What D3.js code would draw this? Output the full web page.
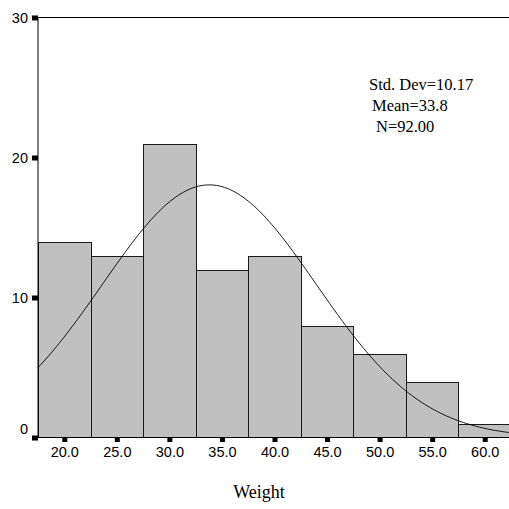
<!DOCTYPE html>
<html><head><meta charset="utf-8">
<script src="https://cdn.jsdelivr.net/npm/d3@7/dist/d3.min.js"></script>
<style>body{margin:0;background:#fff}svg{display:block}</style>
</head><body>
<svg id="c" width="509" height="509"></svg>
<script>
const binCenters = [20.0, 25.0, 30.0, 35.0, 40.0, 45.0, 50.0, 55.0, 60.0];
const counts = [14, 13, 21, 12, 13, 8, 6, 4, 1];
const yTicks = [0, 10, 20, 30];
const binWidth = 5;
const stdDev = 10.17, mean = 33.8, n = 92;
const statLabels = ["Std. Dev=10.17", "Mean=33.8", "N=92.00"];
const xTitle = "Weight";

const svg = d3.select("#c");
const x = d3.scaleLinear().domain([17.5, 62.5]).range([38, 511]);
const y = d3.scaleLinear().domain([0, 30]).range([437.5, 17.5]);

// bars
svg.append("g").selectAll("rect").data(binCenters).join("rect")
  .attr("x", (d) => Math.round(x(d - binWidth/2)) + 0.5)
  .attr("width", (d) => Math.round(x(d + binWidth/2)) - Math.round(x(d - binWidth/2)))
  .attr("y", (d,i) => Math.round(y(counts[i])) + 0.5)
  .attr("height", (d,i) => y(0) - Math.round(y(counts[i])) - 0.5)
  .attr("fill", "#c0c0c0").attr("stroke", "#1a1a1a").attr("stroke-width", 1);

// normal curve
const pts = d3.range(17.5, 62.51, 0.25);
const pdf = (v) => n * binWidth / (stdDev * Math.sqrt(2*Math.PI)) * Math.exp(-0.5*((v-mean)/stdDev)**2);
svg.append("path").datum(pts)
  .attr("d", d3.line().x(d => x(d)).y(d => y(pdf(d))))
  .attr("fill", "none").attr("stroke", "#000").attr("stroke-width", 0.9);

// frame lines
svg.append("line").attr("x1", 38).attr("x2", 509).attr("y1", 17.5).attr("y2", 17.5).attr("stroke", "#000");
svg.append("line").attr("x1", 38).attr("x2", 509).attr("y1", 437.5).attr("y2", 437.5).attr("stroke", "#000");
svg.append("line").attr("x1", 38).attr("x2", 38).attr("y1", 17).attr("y2", 438).attr("stroke", "#000");

// y axis
const yAxis = svg.append("g").attr("transform", "translate(38,0)")
  .call(d3.axisLeft(y).tickValues(yTicks).tickSize(0).tickPadding(10));
yAxis.select(".domain").remove();
yAxis.selectAll("text").attr("font-family", "Liberation Sans, Arial, sans-serif").attr("font-size", 14.5).attr("fill", "#000")
  .attr("dy", d => d === 0 ? "-0.3em" : "0.35em");
yAxis.selectAll(".tick").append("rect").attr("x", -6).attr("y", -2.5).attr("width", 6).attr("height", 5).attr("fill", "#000");

// x axis
const xAxis = svg.append("g").attr("transform", "translate(0,437.5)")
  .call(d3.axisBottom(x).tickValues(binCenters).tickSize(0).tickPadding(9).tickFormat(d3.format(".1f")));
xAxis.select(".domain").remove();
xAxis.selectAll("text").attr("font-family", "Liberation Sans, Arial, sans-serif").attr("font-size", 14.5).attr("fill", "#000");
xAxis.selectAll(".tick").append("rect").attr("x", -2.5).attr("y", 0).attr("width", 5).attr("height", 4.5).attr("fill", "#000");

// stats
const statX = [369, 372, 376];
svg.append("g").selectAll("text").data(statLabels).join("text")
  .attr("x", (d,i) => statX[i]).attr("y", (d,i) => 90 + i*21)
  .attr("font-family", "Liberation Serif, Times New Roman, serif").attr("font-size", 16.5).attr("fill", "#000")
  .text(d => d);

svg.append("text").attr("x", 259).attr("y", 498).attr("text-anchor", "middle")
  .attr("font-family", "Liberation Serif, Times New Roman, serif").attr("font-size", 18).attr("fill", "#000")
  .text(xTitle);
</script>
</body></html>
